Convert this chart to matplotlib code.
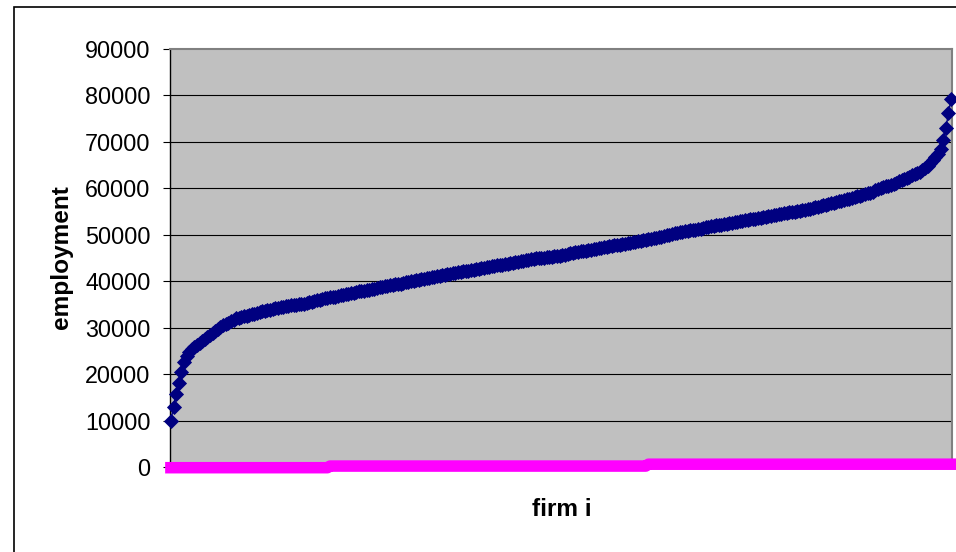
import numpy as np
import matplotlib
matplotlib.use('Agg')
import matplotlib.pyplot as plt
from matplotlib.patches import Rectangle

# employment per firm, sorted (thousands)
employment_k = [
    10.0, 13.0, 15.8, 18.0, 20.5, 22.6, 23.8, 24.7, 25.3, 25.8,
    26.3, 26.7, 27.1, 27.5, 28.0, 28.4, 28.8, 29.3, 29.7, 30.1,
    30.5, 30.8, 31.1, 31.4, 31.7, 32.0, 32.1, 32.3, 32.5, 32.6,
    32.8, 32.9, 33.0, 33.2, 33.3, 33.5, 33.6, 33.8, 33.9, 34.0,
    34.2, 34.3, 34.4, 34.5, 34.6, 34.7, 34.8, 34.8, 34.9, 35.0,
    35.1, 35.2, 35.4, 35.5, 35.6, 35.8, 35.9, 36.0, 36.1, 36.3,
    36.4, 36.5, 36.6, 36.7, 36.8, 37.0, 37.1, 37.2, 37.3, 37.4,
    37.5, 37.7, 37.8, 37.9, 38.0, 38.1, 38.2, 38.3, 38.4, 38.5,
    38.7, 38.8, 38.9, 39.0, 39.1, 39.2, 39.3, 39.4, 39.5, 39.6,
    39.8, 39.9, 40.0, 40.1, 40.2, 40.3, 40.4, 40.5, 40.6, 40.8,
    40.9, 41.0, 41.1, 41.2, 41.3, 41.4, 41.5, 41.6, 41.7, 41.8,
    41.9, 42.0, 42.1, 42.2, 42.3, 42.4, 42.5, 42.6, 42.7, 42.8,
    42.9, 43.0, 43.1, 43.2, 43.3, 43.4, 43.5, 43.6, 43.7, 43.8,
    43.9, 44.0, 44.1, 44.2, 44.3, 44.4, 44.5, 44.6, 44.7, 44.8,
    44.9, 45.0, 45.1, 45.1, 45.2, 45.3, 45.3, 45.4, 45.5, 45.5,
    45.6, 45.7, 45.8, 46.0, 46.1, 46.2, 46.3, 46.4, 46.5, 46.6,
    46.7, 46.8, 46.9, 47.0, 47.1, 47.2, 47.3, 47.4, 47.5, 47.6,
    47.7, 47.8, 47.9, 48.0, 48.1, 48.2, 48.3, 48.4, 48.5, 48.6,
    48.7, 48.8, 48.9, 49.0, 49.1, 49.3, 49.4, 49.5, 49.6, 49.7,
    49.9, 50.0, 50.1, 50.3, 50.4, 50.5, 50.6, 50.8, 50.9, 51.0,
    51.0, 51.1, 51.2, 51.3, 51.5, 51.6, 51.7, 51.8, 51.9, 52.0,
    52.1, 52.2, 52.3, 52.4, 52.5, 52.6, 52.7, 52.8, 52.9, 53.0,
    53.1, 53.2, 53.3, 53.4, 53.5, 53.6, 53.7, 53.8, 53.9, 54.0,
    54.1, 54.2, 54.3, 54.4, 54.5, 54.6, 54.7, 54.8, 54.9, 55.0,
    55.1, 55.2, 55.3, 55.4, 55.5, 55.6, 55.8, 55.9, 56.0, 56.2,
    56.4, 56.5, 56.6, 56.8, 56.9, 57.0, 57.2, 57.3, 57.5, 57.6,
    57.8, 58.0, 58.1, 58.3, 58.4, 58.6, 58.7, 58.9, 59.1, 59.3,
    59.6, 59.8, 60.0, 60.2, 60.4, 60.6, 60.8, 61.0, 61.2, 61.5,
    61.8, 62.0, 62.3, 62.5, 62.8, 63.0, 63.3, 63.6, 63.9, 64.4,
    64.9, 65.4, 66.0, 66.7, 67.4, 68.5, 70.5, 73.0, 76.2, 79.3,
]

# second series: flat levels near zero, changing at two firms
low_levels = [-150, 200, 600]
low_breaks = [61, 183]

y_ticks = [0, 10000, 20000, 30000, 40000, 50000, 60000, 70000, 80000, 90000]

emp = np.array(employment_k) * 1000
n = len(emp)
firms = np.arange(n)
seg_lengths = np.diff([0] + low_breaks + [n])
low = np.repeat(low_levels, seg_lengths)

plt.rcParams['font.family'] = ['Liberation Sans', 'DejaVu Sans']

fig = plt.figure(figsize=(9.56, 5.52), dpi=100)
fig.patch.set_facecolor('white')
ax = fig.add_axes([170 / 956, 85 / 552, 782 / 956, 418 / 552])
ax.set_facecolor('#C0C0C0')

for t in y_ticks[1:-1]:
    ax.axhline(t, color='black', lw=0.8, zorder=1)

ax.plot(firms, emp, color='#000080', lw=1, marker='D', markersize=7.6,
        markerfacecolor='#000080', markeredgecolor='#000080',
        markeredgewidth=0.6, zorder=3, clip_on=False)
ax.plot(firms, low, color='#FF00FF', lw=8.3, solid_capstyle='projecting',
        zorder=4, clip_on=False)

ax.set_xlim(-0.35, n - 1 + 0.35)
ax.set_ylim(0, 90000)
ax.set_yticks(y_ticks)
ax.set_yticklabels([str(t) for t in y_ticks], fontsize=16.8)
ax.set_xticks([])
ax.tick_params(axis='y', direction='out', length=5, width=0.8, pad=9,
               color='black')

ax.spines['left'].set_color('black')
ax.spines['left'].set_linewidth(1)
ax.spines['bottom'].set_color('black')
ax.spines['top'].set_color('#808080')
ax.spines['top'].set_linewidth(1.5)
ax.spines['right'].set_color('#808080')
ax.spines['right'].set_linewidth(1.5)

fig.text(61.5 / 956, 1 - 257.5 / 552, 'employment', rotation=90,
         ha='center', va='center', fontsize=17.6, fontweight='bold')
fig.text(562 / 956, 1 - 510 / 552, 'firm i', ha='center', va='center',
         fontsize=17.6, fontweight='bold')

# outer chart frame
fig.patches.append(Rectangle((14 / 956, -0.1), 2, 1 - 7 / 552 + 0.1,
                             transform=fig.transFigure, fill=False,
                             edgecolor='black', lw=1.2))

fig.savefig('out.png', dpi=100)
